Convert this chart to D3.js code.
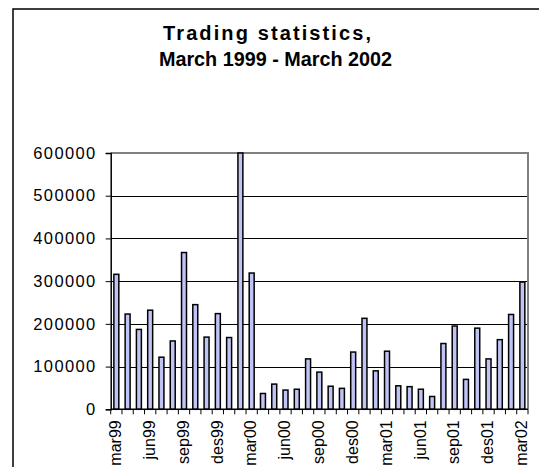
<!DOCTYPE html>
<html>
<head>
<meta charset="utf-8">
<script src="https://cdn.jsdelivr.net/npm/d3@7"></script>
<style>
body{margin:0;background:#fff;}
text{font-family:"Liberation Sans",Arial,sans-serif;}
</style>
</head>
<body>
<script>
var months=["mar99","apr99","mai99","jun99","jul99","aug99","sep99","okt99","nov99","des99","jan00","feb00",
            "mar00","apr00","mai00","jun00","jul00","aug00","sep00","okt00","nov00","des00","jan01","feb01",
            "mar01","apr01","mai01","jun01","jul01","aug01","sep01","okt01","nov01","des01","jan02","feb02","mar02"];
var trades=[316000,223000,187000,232000,122000,160000,367000,245000,169000,224000,168000,600000,
            319000,37000,59000,45000,47000,118000,87000,54000,49000,134000,213000,90000,
            136000,55000,53000,47000,30000,154000,195000,70000,190000,118000,163000,222000,298000];
var tickLabels=["mar99","jun99","sep99","des99","mar00","jun00","sep00","des00","mar01","jun01","sep01","des01","mar02"];
var yTicks=[0,100000,200000,300000,400000,500000,600000];
var titleLines=["Trading statistics,","March 1999 - March 2002"];

var drawChart=function()
{
  var width=539, height=467;
  var left=110.7, right=528, top=153, bottom=409.3;

  var svg=d3.select("body").append("svg")
            .attr("width",width)
            .attr("height",height);

  // outer chart frame (cut by the window)
  svg.append("rect")
     .attr("x",13).attr("y",9)
     .attr("width",560).attr("height",500)
     .attr("fill","none").attr("stroke","#000").attr("stroke-width",1.5);

  svg.append("text")
     .text(titleLines[0])
     .attr("x",163).attr("y",39.5)
     .attr("textLength",208).attr("lengthAdjust","spacing")
     .attr("font-size",20).attr("font-weight","bold");
  svg.append("text")
     .text(titleLines[1])
     .attr("x",275.5).attr("y",65.8)
     .attr("text-anchor","middle")
     .attr("font-size",19.8).attr("font-weight","bold");

  var xCat=d3.scaleBand().domain(months).range([left,right]);
  var x=d3.scaleBand().domain(months).range([left,right]).paddingInner(0.56).paddingOuter(0.28);
  var y=d3.scaleLinear().domain([0,600000]).range([bottom,top]);

  // gridlines
  svg.selectAll("line.grid")
     .data(yTicks.slice(1,6))
     .enter()
     .append("line")
     .attr("class","grid")
     .attr("x1",left).attr("x2",right)
     .attr("y1",function(d){return Math.round(y(d))+0.5;})
     .attr("y2",function(d){return Math.round(y(d))+0.5;})
     .attr("stroke","#000").attr("stroke-width",1);

  // plot border top/right
  svg.append("path")
     .attr("d","M"+left+","+top+"H"+right+"V"+bottom)
     .attr("fill","none").attr("stroke","#808080").attr("stroke-width",2);

  // bars
  svg.selectAll("rect.bar")
     .data(trades)
     .enter()
     .append("rect")
     .attr("class","bar")
     .attr("x",function(d,i){return x(months[i]);})
     .attr("y",function(d){return y(d);})
     .attr("width",x.bandwidth())
     .attr("height",function(d){return bottom-y(d);})
     .attr("fill","#c0c4f4")
     .attr("stroke","#000")
     .attr("stroke-width",1.5);

  // y axis
  var yAxis=svg.append("g")
     .attr("transform","translate("+left+",0)")
     .call(d3.axisLeft(y).tickValues(yTicks).tickSize(5).tickPadding(9).tickFormat(d3.format("d")));
  yAxis.select(".domain").attr("stroke","#000").attr("stroke-width",1.5);
  yAxis.selectAll("text").attr("font-size",16.5).attr("fill","#000")
       .attr("letter-spacing",1.4).attr("font-family","'Liberation Sans',Arial,sans-serif");

  // x axis line + ticks at category boundaries
  svg.append("line")
     .attr("x1",left).attr("x2",right)
     .attr("y1",bottom).attr("y2",bottom)
     .attr("stroke","#000").attr("stroke-width",1.5);
  var bounds=months.map(function(m){return xCat(m);}).concat([right]);
  svg.selectAll("line.xtick")
     .data(bounds)
     .enter()
     .append("line")
     .attr("class","xtick")
     .attr("x1",function(d){return d;}).attr("x2",function(d){return d;})
     .attr("y1",bottom).attr("y2",bottom+5)
     .attr("stroke","#000").attr("stroke-width",1);

  svg.selectAll("text.xlab")
     .data(tickLabels)
     .enter()
     .append("text")
     .attr("class","xlab")
     .text(function(d){return d;})
     .attr("transform",function(d){
       return "translate("+(xCat(d)+xCat.bandwidth()/2-1)+","+(bottom+11)+") rotate(-90)";
     })
     .attr("dy","0.36em")
     .attr("text-anchor","end")
     .attr("font-size",16);
};
drawChart();
</script>
</body>
</html>
